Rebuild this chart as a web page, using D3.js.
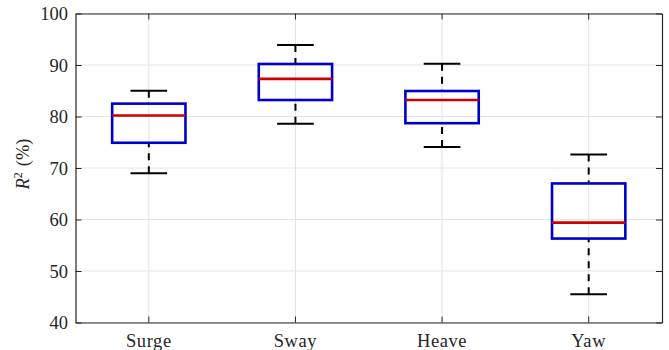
<!DOCTYPE html>
<html lang="en">
<head>
<meta charset="utf-8">
<script src="https://cdnjs.cloudflare.com/ajax/libs/d3/7.8.5/d3.min.js"></script>
<style>
  body { margin: 0; background: #fff; }
  svg { display: block; font-family: "Liberation Serif", "DejaVu Serif", serif; }
</style>
</head>
<body>
<div id="chart"></div>
<script>
  // box stats
  const categories = ["Surge", "Sway", "Heave", "Yaw"];
  const whiskerLow = [69.0, 78.6, 74.1, 45.5];
  const q1 = [74.9, 83.2, 78.7, 56.3];
  const median = [80.2, 87.3, 83.2, 59.4];
  const q3 = [82.5, 90.2, 84.95, 67.0];
  const whiskerHigh = [85.0, 93.9, 90.25, 72.6];
  const yTicks = [40, 50, 60, 70, 80, 90, 100];

  const width = 669, height = 350;
  const margin = {top: 13.5, right: 7, bottom: 27.5, left: 75.5};

  const svg = d3.select("#chart").append("svg").attr("width", width).attr("height", height);

  const x = d3.scaleBand().domain(categories).range([margin.left, width - margin.right]);
  const y = d3.scaleLinear().domain([40, 100]).range([height - margin.bottom, margin.top]);

  const stats = categories.map(function(c, i){
    return {name: c, lo: whiskerLow[i], q1: q1[i], med: median[i], q3: q3[i], hi: whiskerHigh[i]};
  });

  const x0 = margin.left, x1 = width - margin.right, y0 = height - margin.bottom, y1 = margin.top;
  const cx = function(d){ return x(d) + x.bandwidth() / 2; };

  // grid
  const grid = svg.append("g").attr("stroke", "#e3e3e3").attr("stroke-width", 1);
  grid.selectAll(".gy").data(yTicks).enter().append("line")
    .attr("x1", x0).attr("x2", x1).attr("y1", d => y(d)).attr("y2", d => y(d));
  grid.selectAll(".gx").data(categories).enter().append("line")
    .attr("x1", cx).attr("x2", cx).attr("y1", y0).attr("y2", y1);

  // axes (ticks inward, box on)
  const axisColor = "#262626";
  const axLeft = svg.append("g").attr("transform", "translate(" + x0 + ",0)")
    .call(d3.axisLeft(y).tickValues(yTicks).tickSizeInner(-6).tickSizeOuter(0).tickPadding(7.5));
  const axRight = svg.append("g").attr("transform", "translate(" + x1 + ",0)")
    .call(d3.axisRight(y).tickValues(yTicks).tickSizeInner(-6).tickSizeOuter(0).tickFormat(""));
  const axBottom = svg.append("g").attr("transform", "translate(0," + y0 + ")")
    .call(d3.axisBottom(x).tickSizeInner(-6).tickSizeOuter(0).tickPadding(11));
  const axTop = svg.append("g").attr("transform", "translate(0," + y1 + ")")
    .call(d3.axisTop(x).tickSizeInner(-6).tickSizeOuter(0).tickFormat(""));

  [axLeft, axRight, axBottom, axTop].forEach(function(a){
    a.selectAll("path").attr("stroke", axisColor).attr("stroke-width", 1.2);
    a.selectAll("line").attr("stroke", axisColor).attr("stroke-width", 1);
    a.selectAll("text").attr("fill", "#262626").style("font-size", "18.5px")
      .style("font-family", "'Liberation Serif', 'DejaVu Serif', serif");
  });
  axLeft.selectAll("text").attr("dy", "0.34em");
  axBottom.selectAll("text").style("letter-spacing", "0.6px");

  // y label
  const yl = svg.append("text")
    .attr("transform", "translate(29,164) rotate(-90)")
    .attr("text-anchor", "middle").attr("fill", "#262626").style("font-size", "18.5px");
  yl.append("tspan").style("font-style", "italic").text("R");
  yl.append("tspan").attr("dy", "-7").style("font-size", "12px").text("2");
  yl.append("tspan").attr("dy", "7").attr("dx", "6").text("(%)");

  // boxes
  const boxW = x.bandwidth() * 0.5, capW = boxW * 0.5;
  const boxes = svg.append("g").selectAll("g").data(stats).enter().append("g");

  boxes.append("line")
    .attr("x1", d => cx(d.name)).attr("x2", d => cx(d.name))
    .attr("y1", d => y(d.hi)).attr("y2", d => y(d.q3))
    .attr("stroke", "#000").attr("stroke-width", 2).attr("stroke-dasharray", "7,6");
  boxes.append("line")
    .attr("x1", d => cx(d.name)).attr("x2", d => cx(d.name))
    .attr("y1", d => y(d.lo)).attr("y2", d => y(d.q1))
    .attr("stroke", "#000").attr("stroke-width", 2).attr("stroke-dasharray", "7,6");

  boxes.append("line")
    .attr("x1", d => cx(d.name) - capW / 2).attr("x2", d => cx(d.name) + capW / 2)
    .attr("y1", d => y(d.hi)).attr("y2", d => y(d.hi))
    .attr("stroke", "#000").attr("stroke-width", 2);
  boxes.append("line")
    .attr("x1", d => cx(d.name) - capW / 2).attr("x2", d => cx(d.name) + capW / 2)
    .attr("y1", d => y(d.lo)).attr("y2", d => y(d.lo))
    .attr("stroke", "#000").attr("stroke-width", 2);

  boxes.append("rect")
    .attr("x", d => cx(d.name) - boxW / 2).attr("width", boxW)
    .attr("y", d => y(d.q3)).attr("height", d => y(d.q1) - y(d.q3))
    .attr("fill", "none").attr("stroke", "#0000cc").attr("stroke-width", 2.6);

  boxes.append("line")
    .attr("x1", d => cx(d.name) - boxW / 2).attr("x2", d => cx(d.name) + boxW / 2)
    .attr("y1", d => y(d.med)).attr("y2", d => y(d.med))
    .attr("stroke", "#cc0000").attr("stroke-width", 2.6);
</script>
</body>
</html>
